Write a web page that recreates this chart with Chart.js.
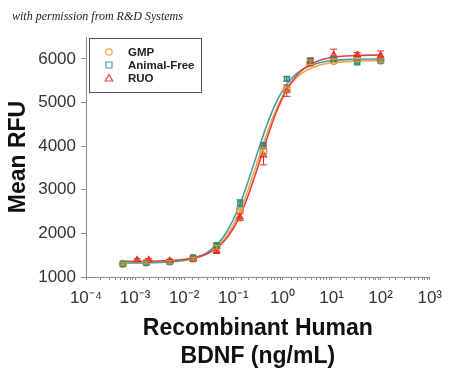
<!DOCTYPE html>
<html><head><meta charset="utf-8">
<script src="https://cdn.jsdelivr.net/npm/chart.js@4/dist/chart.umd.min.js"></script>
<style>
html,body{margin:0;padding:0;background:#fff;}
#wrap{position:relative;width:450px;height:374px;}
#note{position:absolute;left:12px;top:9px;font:italic 12px "Liberation Serif","DejaVu Serif",serif;color:#222;white-space:nowrap;}
</style></head><body>
<div id="wrap"><canvas id="c"></canvas><div id="note">with permission from R&amp;D Systems</div></div>
<script>
// ---- data ----
const seriesNames = ['GMP', 'Animal-Free', 'RUO'];
const concentrations = [0.000564, 0.00169, 0.00508, 0.0152, 0.0457, 0.137, 0.412, 1.23, 3.70, 11.1, 33.3, 100];
const ruoConcentrations = [0.0011, 0.0019, 0.00508, 0.0152, 0.0457, 0.137, 0.412, 1.23, 3.70, 11.1, 33.3, 100];
const gmpValues = [1300, 1330, 1350, 1420, 1680, 2530, 3880, 5300, 5920, 5950, 5980, 5960];
const afValues  = [1300, 1320, 1350, 1450, 1730, 2690, 4010, 5540, 5960, 6000, 5920, 5960];
const ruoValues = [1390, 1390, 1370, 1410, 1600, 2370, 3790, 5270, 5920, 6090, 6090, 6080];
const gmpErrors = [30, 30, 30, 30, 40, 60, 80, 60, 50, 40, 40, 40];
const afErrors  = [30, 30, 30, 30, 50, 80, 70, 50, 60, 40, 40, 40];
const ruoErrors = [30, 30, 30, 40, 60, 80, 220, 130, 80, 130, 50, 100];
// fitted curves
const fitConcentrations = [0.0005, 0.002, 0.006, 0.015, 0.03, 0.06, 0.1, 0.15, 0.2, 0.3, 0.45, 0.7, 1, 1.5, 2.5, 5, 10, 30, 100];
const gmpFit = [1330, 1336, 1357, 1418, 1543, 1821, 2196, 2626, 3002, 3594, 4196, 4765, 5131, 5432, 5673, 5838, 5909, 5946, 5958];
const afFit  = [1321, 1328, 1352, 1424, 1570, 1889, 2314, 2787, 3187, 3797, 4389, 4934, 5266, 5536, 5749, 5895, 5957, 5990, 5998];
const ruoFit = [1360, 1366, 1383, 1435, 1540, 1779, 2112, 2509, 2864, 3446, 4066, 4690, 5101, 5451, 5738, 5938, 6029, 6075, 6087];
const yTickValues = [1000, 2000, 3000, 4000, 5000, 6000];
const xAxisTitle = ['Recombinant Human', 'BDNF (ng/mL)'];
const yAxisTitle = 'Mean RFU';

// ---- styles ----
const lineColors = ['#f0a848', '#3fa0b0', '#e8403a'];
const markerColors = ['#d99a3a', '#2e8c78', '#e02a26'];
const markerFills = ['rgba(240,190,110,0.35)', 'rgba(60,140,110,0.55)', 'rgba(230,60,50,0.55)'];
const markerStyles = ['circle', 'rect', 'triangle'];

const pts = (xs, ys) => xs.map((x, i) => ({x: x, y: ys[i]}));
const sup = {'-':'\u207B','0':'\u2070','1':'\u00B9','2':'\u00B2','3':'\u00B3','4':'\u2074','5':'\u2075','6':'\u2076','7':'\u2077','8':'\u2078','9':'\u2079'};
const toSup = n => String(n).split('').map(ch => sup[ch]).join('');

const markerSets = [
  {label: seriesNames[2], xs: ruoConcentrations, ys: ruoValues, err: ruoErrors, k: 2},
  {label: seriesNames[1], xs: concentrations, ys: afValues, err: afErrors, k: 1},
  {label: seriesNames[0], xs: concentrations, ys: gmpValues, err: gmpErrors, k: 0}
];
const fitSets = [
  {label: seriesNames[2] + ' fit', ys: ruoFit, k: 2},
  {label: seriesNames[1] + ' fit', ys: afFit, k: 1},
  {label: seriesNames[0] + ' fit', ys: gmpFit, k: 0}
];

const datasets = [];
markerSets.forEach(s => datasets.push({
  label: s.label, data: pts(s.xs, s.ys), errors: s.err, showLine: false, order: 0,
  pointStyle: markerStyles[s.k], pointRadius: 3.5, borderWidth: 1.2,
  pointBorderColor: markerColors[s.k], pointBackgroundColor: markerFills[s.k],
  borderColor: markerColors[s.k], backgroundColor: markerFills[s.k]
}));
fitSets.forEach(s => datasets.push({
  label: s.label, data: pts(fitConcentrations, s.ys), showLine: true, order: 1,
  pointRadius: 0, borderWidth: 1.6, borderColor: lineColors[s.k], backgroundColor: lineColors[s.k],
  cubicInterpolationMode: 'monotone', fill: false
}));

const errorBars = {
  id: 'errorBars',
  afterDatasetsDraw(chart) {
    const ctx = chart.ctx, ys = chart.scales.y;
    chart.data.datasets.forEach((ds, di) => {
      if (!ds.errors) return;
      const meta = chart.getDatasetMeta(di);
      ctx.save();
      ctx.strokeStyle = ds.borderColor; ctx.lineWidth = 1;
      meta.data.forEach((el, i) => {
        const v = ds.data[i].y, e = ds.errors[i];
        const t = ys.getPixelForValue(v + e), b = ys.getPixelForValue(v - e);
        ctx.beginPath();
        ctx.moveTo(el.x, t); ctx.lineTo(el.x, b);
        ctx.moveTo(el.x - 3.5, t); ctx.lineTo(el.x + 3.5, t);
        ctx.moveTo(el.x - 3.5, b); ctx.lineTo(el.x + 3.5, b);
        ctx.stroke();
      });
      ctx.restore();
    });
  }
};

const boxLegend = {
  id: 'boxLegend',
  afterDraw(chart) {
    const ctx = chart.ctx;
    const x0 = 89, y0 = 38, w = 112, h = 54;
    ctx.save();
    ctx.fillStyle = '#fff';
    ctx.fillRect(x0, y0, w, h);
    ctx.strokeStyle = '#555'; ctx.lineWidth = 1;
    ctx.strokeRect(x0 + 0.5, y0 + 0.5, w, h);
    ctx.font = 'bold 11.5px "Liberation Sans", Arial, sans-serif';
    ctx.textBaseline = 'middle';
    [0, 1, 2].forEach((k, i) => {
      const cy = y0 + 14 + i * 13, cx = x0 + 20;
      ctx.strokeStyle = lineColors[k]; ctx.lineWidth = 1.2;
      ctx.beginPath();
      if (k === 0) ctx.arc(cx, cy, 3.2, 0, Math.PI * 2);
      else if (k === 1) ctx.rect(cx - 3, cy - 3, 6, 6);
      else { ctx.moveTo(cx, cy - 3.5); ctx.lineTo(cx + 3.8, cy + 3); ctx.lineTo(cx - 3.8, cy + 3); ctx.closePath(); }
      ctx.stroke();
      ctx.fillStyle = '#222';
      ctx.fillText(seriesNames[k], x0 + 39, cy + 0.5);
    });
    ctx.restore();
  }
};

new Chart(document.getElementById('c'), {
  type: 'scatter',
  data: {datasets: datasets},
  options: {
    responsive: true, maintainAspectRatio: false, animation: false,
    layout: {padding: {top: 37, right: 18, left: 0, bottom: 0}},
    plugins: {legend: {display: false}, tooltip: {enabled: false}},
    scales: {
      x: {
        type: 'logarithmic', min: 1e-4, max: 1e3,
        afterFit(s) { s.height = 97; },
        border: {display: true, color: '#8a8a8a', width: 1},
        grid: {display: true, drawOnChartArea: false, drawTicks: true, tickLength: 3, color: '#8a8a8a'},
        ticks: {
          autoSkip: false, maxRotation: 0, minRotation: 0, padding: 8, color: '#333',
          font: {family: '"Liberation Sans", Arial, sans-serif', size: 17},
          callback(v) {
            const l = Math.log10(v), r = Math.round(l);
            return Math.abs(l - r) < 1e-6 ? '10' + toSup(r) : '';
          }
        },
        title: {display: true, text: xAxisTitle, color: '#111', padding: {top: 0, bottom: 4},
          font: {family: '"Liberation Sans", Arial, sans-serif', size: 23, weight: 'bold', lineHeight: 1.2}}
      },
      y: {
        type: 'linear', min: 1000, max: 6500,
        afterFit(s) { s.width = 86; },
        afterBuildTicks(s) { s.ticks = yTickValues.map(v => ({value: v})); },
        border: {display: true, color: '#8a8a8a', width: 1},
        grid: {display: true, drawOnChartArea: false, drawTicks: true, tickLength: 5, color: '#8a8a8a'},
        ticks: {padding: 5, color: '#333', font: {family: '"Liberation Sans", Arial, sans-serif', size: 17},
          callback(v) { return String(v); }},
        title: {display: true, text: yAxisTitle, color: '#111', padding: {top: 5, bottom: 0},
          font: {family: '"Liberation Sans", Arial, sans-serif', size: 23, weight: 'bold', lineHeight: 1.2}}
      }
    }
  },
  plugins: [errorBars, boxLegend]
});
</script>
</body></html>
